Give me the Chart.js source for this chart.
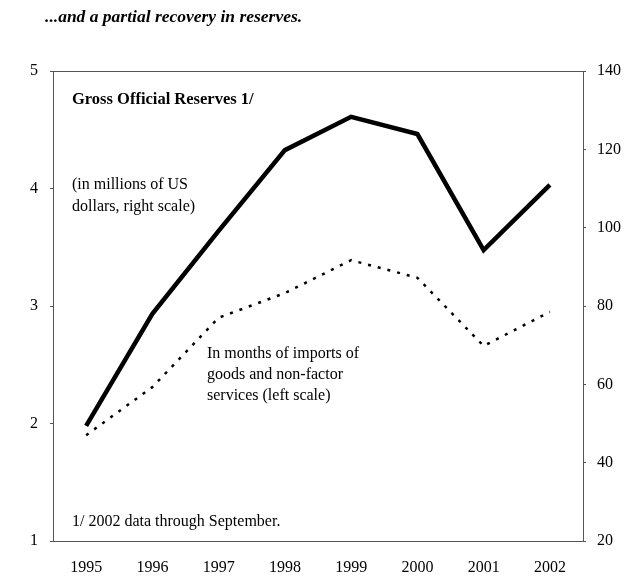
<!DOCTYPE html>
<html>

<head>
    <meta charset="UTF-8">
    <title>Gross Official Reserves</title>
    <script src="https://cdn.jsdelivr.net/npm/chart.js@4.4.1/dist/chart.umd.min.js"></script>
    <style>
        html, body { margin: 0; padding: 0; background: #fff; }
        #wrap { width: 635px; height: 576px; }
    </style>
</head>

<body>
    <div id="wrap">
        <canvas id="line-chart" width="635" height="576"></canvas>
    </div>
</body>

<script>
    var years = ['1995', '1996', '1997', '1998', '1999', '2000', '2001', '2002'];
    // reserves, millions of US dollars (right scale)
    var reserves = [49.4, 78.0, 99.2, 119.8, 128.3, 123.9, 94.3, 110.9];
    // months of imports of goods and non-factor services (left scale)
    var monthsImports = [1.90, 2.31, 2.90, 3.11, 3.39, 3.24, 2.66, 2.95];
    var leftTicks = [1, 2, 3, 4, 5];
    var rightTicks = [20, 40, 60, 80, 100, 120, 140];

    var serif = "'Liberation Serif', 'Times New Roman', serif";

    var notes = {
        id: 'notes',
        afterDraw: function (chart) {
            var ctx = chart.ctx;
            var a = chart.chartArea;
            ctx.save();
            ctx.strokeStyle = '#555';
            ctx.lineWidth = 1;
            ctx.strokeRect(a.left + 0.5, a.top + 0.5, a.right - a.left, a.bottom - a.top);
            ctx.fillStyle = '#000';
            ctx.textAlign = 'left';
            ctx.textBaseline = 'alphabetic';
            ctx.font = 'bold italic 17.5px ' + serif;
            ctx.fillText('...and a partial recovery in reserves.', 45, 22);
            ctx.font = 'bold 16.5px ' + serif;
            ctx.fillText('Gross Official Reserves 1/', 72, 104);
            ctx.font = '16px ' + serif;
            ctx.fillText('(in millions of US', 72, 189);
            ctx.fillText('dollars, right scale)', 72, 211);
            ctx.fillText('In months of imports of', 207, 358);
            ctx.fillText('goods and non-factor', 207, 379);
            ctx.fillText('services (left scale)', 207, 400);
            ctx.fillText('1/ 2002 data through September.', 72, 526);
            ctx.restore();
        }
    };

    var chart = new Chart(document.getElementById('line-chart'), {
        type: 'line',
        data: {
            labels: years,
            datasets: [{
                data: reserves,
                label: 'Gross Official Reserves',
                yAxisID: 'y1',
                borderColor: '#000',
                borderWidth: 4.5,
                pointRadius: 0,
                fill: false,
                tension: 0
            }, {
                data: monthsImports,
                label: 'In months of imports',
                yAxisID: 'y',
                borderColor: '#000',
                borderWidth: 2.5,
                borderDash: [3, 7],
                pointRadius: 0,
                fill: false,
                tension: 0
            }]
        },
        plugins: [notes],
        options: {
            responsive: false,
            animation: false,
            layout: { padding: { top: 71, left: 0, right: 0, bottom: 0 } },
            plugins: {
                legend: { display: false },
                tooltip: { enabled: false }
            },
            scales: {
                x: {
                    offset: true,
                    grid: { display: false },
                    border: { display: false },
                    ticks: {
                        color: '#000',
                        padding: 9,
                        maxRotation: 0,
                        font: { family: serif, size: 16 }
                    },
                    afterFit: function (s) { s.height = 35; }
                },
                y: {
                    position: 'left',
                    min: leftTicks[0],
                    max: leftTicks[leftTicks.length - 1],
                    afterBuildTicks: function (s) {
                        s.ticks = leftTicks.map(function (v) { return { value: v }; });
                    },
                    grid: { drawOnChartArea: false, tickLength: 3, color: '#555' },
                    border: { display: false },
                    ticks: {
                        color: '#000',
                        padding: 12,
                        font: { family: serif, size: 16 }
                    },
                    afterFit: function (s) { s.width = 53; }
                },
                y1: {
                    position: 'right',
                    min: rightTicks[0],
                    max: rightTicks[rightTicks.length - 1],
                    afterBuildTicks: function (s) {
                        s.ticks = rightTicks.map(function (v) { return { value: v }; });
                    },
                    grid: { drawOnChartArea: false, tickLength: 3, color: '#555' },
                    border: { display: false },
                    ticks: {
                        color: '#000',
                        padding: 11,
                        font: { family: serif, size: 16 }
                    },
                    afterFit: function (s) { s.width = 52; }
                }
            }
        }
    });
</script>

</html>
